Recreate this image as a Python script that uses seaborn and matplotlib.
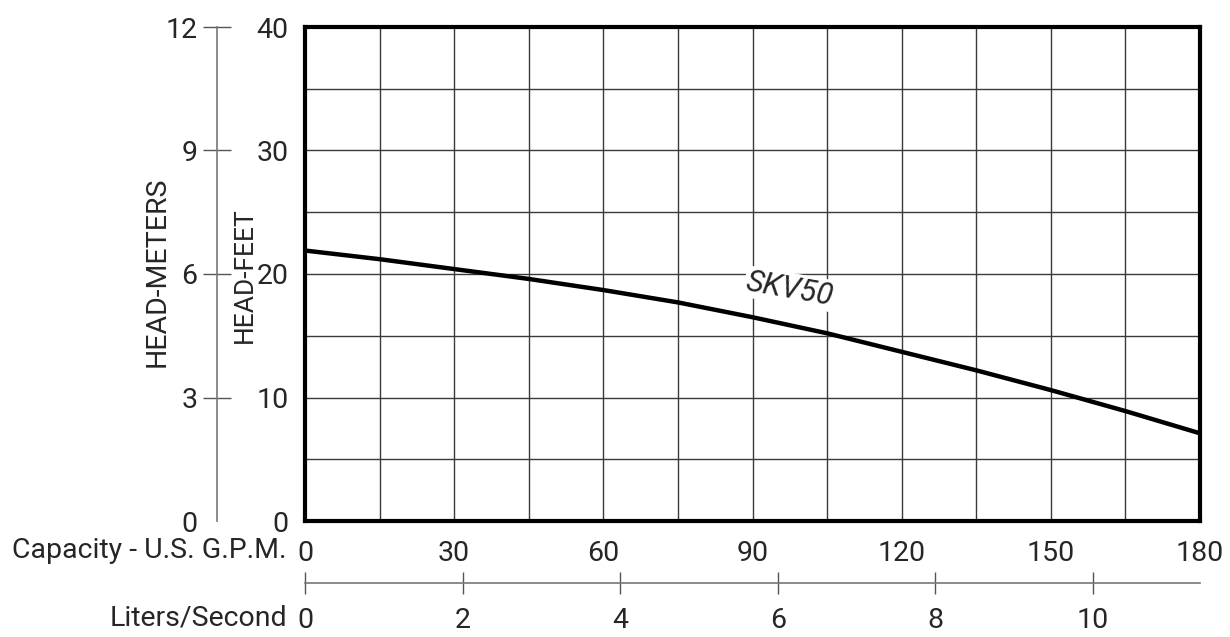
import numpy as np
import pandas as pd
import matplotlib
matplotlib.use('Agg')
import matplotlib.pyplot as plt
import seaborn as sns

# pump curve
gpm = [0, 15, 30, 45, 60, 75, 90, 105, 120, 135, 150, 165, 180]
head_ft = [21.9, 21.2, 20.4, 19.6, 18.7, 17.7, 16.5, 15.2, 13.7, 12.2, 10.6, 8.9, 7.1]
model = 'SKV50'

gpm_ticks = [0, 30, 60, 90, 120, 150, 180]
feet_ticks = [0, 10, 20, 30, 40]
meter_ticks = [0, 3, 6, 9, 12]
lps_ticks = [0, 2, 4, 6, 8, 10]

GPM_PER_LPS = 15.85

sns.set_style('white')
plt.rcParams['font.family'] = ['Roboto', 'DejaVu Sans']
FS = 20.5

W, H = 1230, 637
fig = plt.figure(figsize=(W / 100, H / 100), dpi=100)
x0, x1, y0, y1 = 305, 1200, 27, 521
ax = fig.add_axes([x0 / W, 1 - y1 / H, (x1 - x0) / W, (y1 - y0) / H])

df = pd.DataFrame({'gpm': gpm, 'head': head_ft})
sns.lineplot(data=df, x='gpm', y='head', ax=ax, color='black', lw=3.2, zorder=5)

ax.set_xlim(0, 180)
ax.set_ylim(0, 40)
ax.set_xticks(np.arange(0, 181, 15), minor=True)
ax.set_yticks(np.arange(0, 41, 5), minor=True)
ax.set_xticks(gpm_ticks)
ax.set_yticks(feet_ticks)
ax.grid(True, which='both', color='#3a3a3a', lw=1.0)
ax.set_axisbelow(True)
for s in ax.spines.values():
    s.set_linewidth(3)
    s.set_color('black')
    s.set_visible(True)
ax.tick_params(which='both', length=0)
ax.tick_params(axis='y', pad=12, labelsize=FS)
ax.tick_params(axis='x', pad=14, labelsize=FS)
ax.set_xlabel('')
ax.set_ylabel('')

ax.text(97.5, 18.8, model, rotation=-10, style='italic', fontsize=22,
        ha='center', va='center', zorder=4,
        bbox=dict(facecolor='white', edgecolor='none', pad=1))

# meters axis on the far left
sec_y = ax.secondary_yaxis(-(x0 - 217) / (x1 - x0),
                           functions=(lambda f: f * 0.3, lambda m: m / 0.3))
sec_y.set_yticks(meter_ticks)
sec_y.spines['left'].set_color('#777777')
sec_y.spines['left'].set_linewidth(1.2)
sec_y.tick_params(direction='inout', length=20, width=1, color='#555555',
                  pad=4, labelsize=FS)
sec_y.yaxis.get_major_ticks()[0].tick1line.set_visible(False)

# liters/second axis below
sec_x = ax.secondary_xaxis(-(583 - y1) / (y1 - y0),
                           functions=(lambda g: g / GPM_PER_LPS,
                                      lambda l: l * GPM_PER_LPS))
sec_x.set_xticks(lps_ticks)
sec_x.spines['bottom'].set_color('#777777')
sec_x.spines['bottom'].set_linewidth(1.2)
sec_x.tick_params(direction='inout', length=16, width=1, color='#555555',
                  pad=9, labelsize=FS)

fig.text(287 / W, 1 - 551 / H, 'Capacity - U.S. G.P.M.', ha='right', va='center', fontsize=FS)
fig.text(287 / W, 1 - 618 / H, 'Liters/Second', ha='right', va='center', fontsize=FS)
fig.text(157 / W, 1 - 272 / H, 'HEAD-METERS', rotation=90, ha='center', va='center', fontsize=FS)
fig.text(245 / W, 1 - 275 / H, 'HEAD-FEET', rotation=90, ha='center', va='center', fontsize=19)

fig.savefig('out.png', dpi=100, facecolor='white')
